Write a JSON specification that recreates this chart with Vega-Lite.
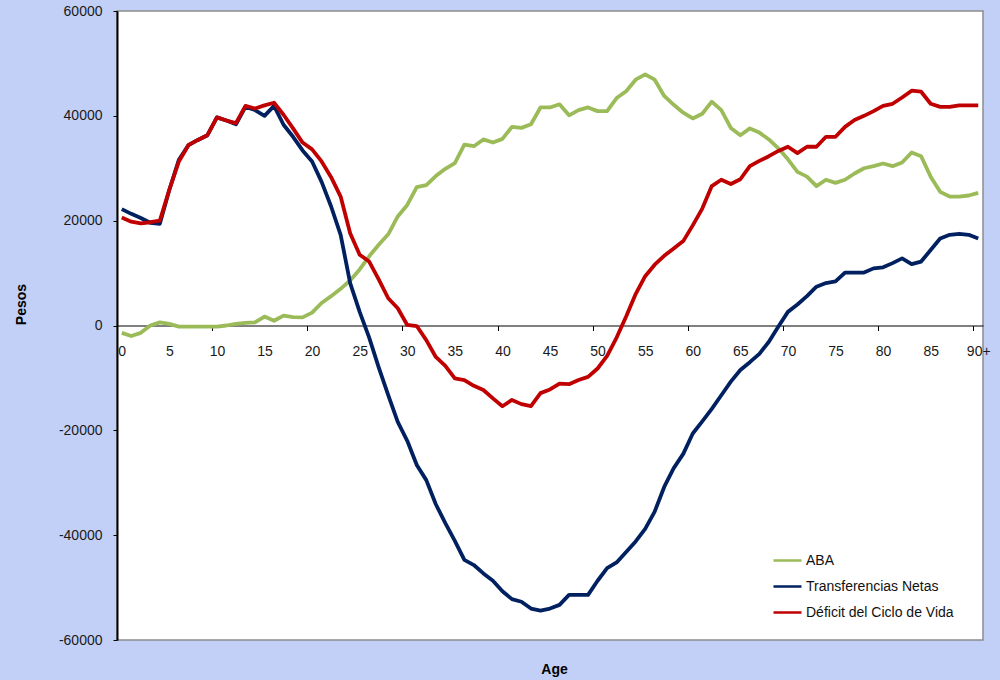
{
  "$schema": "https://vega.github.io/schema/vega-lite/v6.json",
  "width": 866,
  "height": 629,
  "autosize": "none",
  "padding": {"left": 117, "top": 11, "right": 17, "bottom": 40},
  "background": "#c2d0f7",
  "config": {
    "font": "Liberation Sans",
    "view": {"stroke": "#8c8c8c", "strokeWidth": 1.5, "fill": "white"}
  },
  "data": {
    "values": [
      {"age": 0, "ABA": -1400, "Transferencias Netas": 22200, "Déficit del Ciclo de Vida": 20600},
      {"age": 1, "ABA": -2000, "Transferencias Netas": 21300, "Déficit del Ciclo de Vida": 19800},
      {"age": 2, "ABA": -1400, "Transferencias Netas": 20500, "Déficit del Ciclo de Vida": 19500},
      {"age": 3, "ABA": 0, "Transferencias Netas": 19600, "Déficit del Ciclo de Vida": 19700},
      {"age": 4, "ABA": 600, "Transferencias Netas": 19400, "Déficit del Ciclo de Vida": 20000},
      {"age": 5, "ABA": 300, "Transferencias Netas": 25900, "Déficit del Ciclo de Vida": 25900},
      {"age": 6, "ABA": -200, "Transferencias Netas": 31600, "Déficit del Ciclo de Vida": 31300},
      {"age": 7, "ABA": -200, "Transferencias Netas": 34400, "Déficit del Ciclo de Vida": 34400},
      {"age": 8, "ABA": -200, "Transferencias Netas": 35400, "Déficit del Ciclo de Vida": 35400},
      {"age": 9, "ABA": -200, "Transferencias Netas": 36300, "Déficit del Ciclo de Vida": 36300},
      {"age": 10, "ABA": -200, "Transferencias Netas": 39700, "Déficit del Ciclo de Vida": 39700},
      {"age": 11, "ABA": 0, "Transferencias Netas": 39100, "Déficit del Ciclo de Vida": 39100},
      {"age": 12, "ABA": 300, "Transferencias Netas": 38400, "Déficit del Ciclo de Vida": 38600},
      {"age": 13, "ABA": 500, "Transferencias Netas": 41700, "Déficit del Ciclo de Vida": 41900},
      {"age": 14, "ABA": 600, "Transferencias Netas": 41100, "Déficit del Ciclo de Vida": 41400},
      {"age": 15, "ABA": 1700, "Transferencias Netas": 40000, "Déficit del Ciclo de Vida": 42000},
      {"age": 16, "ABA": 900, "Transferencias Netas": 41900, "Déficit del Ciclo de Vida": 42500},
      {"age": 17, "ABA": 1900, "Transferencias Netas": 38300, "Déficit del Ciclo de Vida": 40200},
      {"age": 18, "ABA": 1600, "Transferencias Netas": 36000, "Déficit del Ciclo de Vida": 37600},
      {"age": 19, "ABA": 1550, "Transferencias Netas": 33400, "Déficit del Ciclo de Vida": 34900},
      {"age": 20, "ABA": 2450, "Transferencias Netas": 31300, "Déficit del Ciclo de Vida": 33600},
      {"age": 21, "ABA": 4300, "Transferencias Netas": 27400, "Déficit del Ciclo de Vida": 31300},
      {"age": 22, "ABA": 5600, "Transferencias Netas": 22700, "Déficit del Ciclo de Vida": 28300},
      {"age": 23, "ABA": 7000, "Transferencias Netas": 17300, "Déficit del Ciclo de Vida": 24600},
      {"age": 24, "ABA": 8600, "Transferencias Netas": 8100, "Déficit del Ciclo de Vida": 17600},
      {"age": 25, "ABA": 10700, "Transferencias Netas": 2600, "Déficit del Ciclo de Vida": 13500},
      {"age": 26, "ABA": 13200, "Transferencias Netas": -2300, "Déficit del Ciclo de Vida": 12200},
      {"age": 27, "ABA": 15400, "Transferencias Netas": -8000, "Déficit del Ciclo de Vida": 8800},
      {"age": 28, "ABA": 17400, "Transferencias Netas": -13300, "Déficit del Ciclo de Vida": 5200},
      {"age": 29, "ABA": 20800, "Transferencias Netas": -18400, "Déficit del Ciclo de Vida": 3300},
      {"age": 30, "ABA": 23000, "Transferencias Netas": -22000, "Déficit del Ciclo de Vida": 100},
      {"age": 31, "ABA": 26400, "Transferencias Netas": -26600, "Déficit del Ciclo de Vida": -100},
      {"age": 32, "ABA": 26800, "Transferencias Netas": -29500, "Déficit del Ciclo de Vida": -2800},
      {"age": 33, "ABA": 28500, "Transferencias Netas": -34100, "Déficit del Ciclo de Vida": -6000},
      {"age": 34, "ABA": 29900, "Transferencias Netas": -37700, "Déficit del Ciclo de Vida": -7700},
      {"age": 35, "ABA": 31000, "Transferencias Netas": -41100, "Déficit del Ciclo de Vida": -10100},
      {"age": 36, "ABA": 34500, "Transferencias Netas": -44700, "Déficit del Ciclo de Vida": -10400},
      {"age": 37, "ABA": 34200, "Transferencias Netas": -45700, "Déficit del Ciclo de Vida": -11500},
      {"age": 38, "ABA": 35500, "Transferencias Netas": -47300, "Déficit del Ciclo de Vida": -12300},
      {"age": 39, "ABA": 34900, "Transferencias Netas": -48700, "Déficit del Ciclo de Vida": -13900},
      {"age": 40, "ABA": 35600, "Transferencias Netas": -50700, "Déficit del Ciclo de Vida": -15400},
      {"age": 41, "ABA": 37900, "Transferencias Netas": -52200, "Déficit del Ciclo de Vida": -14200},
      {"age": 42, "ABA": 37700, "Transferencias Netas": -52700, "Déficit del Ciclo de Vida": -15000},
      {"age": 43, "ABA": 38400, "Transferencias Netas": -54000, "Déficit del Ciclo de Vida": -15400},
      {"age": 44, "ABA": 41600, "Transferencias Netas": -54400, "Déficit del Ciclo de Vida": -12900},
      {"age": 45, "ABA": 41600, "Transferencias Netas": -54000, "Déficit del Ciclo de Vida": -12200},
      {"age": 46, "ABA": 42200, "Transferencias Netas": -53300, "Déficit del Ciclo de Vida": -11100},
      {"age": 47, "ABA": 40100, "Transferencias Netas": -51400, "Déficit del Ciclo de Vida": -11200},
      {"age": 48, "ABA": 41100, "Transferencias Netas": -51400, "Déficit del Ciclo de Vida": -10400},
      {"age": 49, "ABA": 41600, "Transferencias Netas": -51400, "Déficit del Ciclo de Vida": -9800},
      {"age": 50, "ABA": 40900, "Transferencias Netas": -48700, "Déficit del Ciclo de Vida": -8200},
      {"age": 51, "ABA": 40900, "Transferencias Netas": -46300, "Déficit del Ciclo de Vida": -5800},
      {"age": 52, "ABA": 43400, "Transferencias Netas": -45200, "Déficit del Ciclo de Vida": -2300},
      {"age": 53, "ABA": 44700, "Transferencias Netas": -43200, "Déficit del Ciclo de Vida": 1700},
      {"age": 54, "ABA": 46900, "Transferencias Netas": -41200, "Déficit del Ciclo de Vida": 6000},
      {"age": 55, "ABA": 47900, "Transferencias Netas": -38800, "Déficit del Ciclo de Vida": 9400},
      {"age": 56, "ABA": 46900, "Transferencias Netas": -35500, "Déficit del Ciclo de Vida": 11600},
      {"age": 57, "ABA": 43800, "Transferencias Netas": -30800, "Déficit del Ciclo de Vida": 13300},
      {"age": 58, "ABA": 42100, "Transferencias Netas": -27200, "Déficit del Ciclo de Vida": 14700},
      {"age": 59, "ABA": 40600, "Transferencias Netas": -24500, "Déficit del Ciclo de Vida": 16100},
      {"age": 60, "ABA": 39500, "Transferencias Netas": -20600, "Déficit del Ciclo de Vida": 19100},
      {"age": 61, "ABA": 40400, "Transferencias Netas": -18300, "Déficit del Ciclo de Vida": 22300},
      {"age": 62, "ABA": 42700, "Transferencias Netas": -15900, "Déficit del Ciclo de Vida": 26600},
      {"age": 63, "ABA": 41100, "Transferencias Netas": -13300, "Déficit del Ciclo de Vida": 27800},
      {"age": 64, "ABA": 37700, "Transferencias Netas": -10700, "Déficit del Ciclo de Vida": 27000},
      {"age": 65, "ABA": 36300, "Transferencias Netas": -8500, "Déficit del Ciclo de Vida": 27900},
      {"age": 66, "ABA": 37600, "Transferencias Netas": -7000, "Déficit del Ciclo de Vida": 30400},
      {"age": 67, "ABA": 36800, "Transferencias Netas": -5400, "Déficit del Ciclo de Vida": 31400},
      {"age": 68, "ABA": 35500, "Transferencias Netas": -3100, "Déficit del Ciclo de Vida": 32300},
      {"age": 69, "ABA": 33800, "Transferencias Netas": -200, "Déficit del Ciclo de Vida": 33300},
      {"age": 70, "ABA": 31700, "Transferencias Netas": 2600, "Déficit del Ciclo de Vida": 34100},
      {"age": 71, "ABA": 29300, "Transferencias Netas": 4000, "Déficit del Ciclo de Vida": 32900},
      {"age": 72, "ABA": 28400, "Transferencias Netas": 5600, "Déficit del Ciclo de Vida": 34100},
      {"age": 73, "ABA": 26600, "Transferencias Netas": 7400, "Déficit del Ciclo de Vida": 34100},
      {"age": 74, "ABA": 27800, "Transferencias Netas": 8100, "Déficit del Ciclo de Vida": 36000},
      {"age": 75, "ABA": 27200, "Transferencias Netas": 8400, "Déficit del Ciclo de Vida": 36000},
      {"age": 76, "ABA": 27800, "Transferencias Netas": 10100, "Déficit del Ciclo de Vida": 37900},
      {"age": 77, "ABA": 29000, "Transferencias Netas": 10100, "Déficit del Ciclo de Vida": 39200},
      {"age": 78, "ABA": 30000, "Transferencias Netas": 10100, "Déficit del Ciclo de Vida": 40000},
      {"age": 79, "ABA": 30400, "Transferencias Netas": 10900, "Déficit del Ciclo de Vida": 40900},
      {"age": 80, "ABA": 30900, "Transferencias Netas": 11100, "Déficit del Ciclo de Vida": 41900},
      {"age": 81, "ABA": 30400, "Transferencias Netas": 11900, "Déficit del Ciclo de Vida": 42300},
      {"age": 82, "ABA": 31100, "Transferencias Netas": 12800, "Déficit del Ciclo de Vida": 43500},
      {"age": 83, "ABA": 33000, "Transferencias Netas": 11700, "Déficit del Ciclo de Vida": 44800},
      {"age": 84, "ABA": 32300, "Transferencias Netas": 12200, "Déficit del Ciclo de Vida": 44600},
      {"age": 85, "ABA": 28400, "Transferencias Netas": 14400, "Déficit del Ciclo de Vida": 42300},
      {"age": 86, "ABA": 25500, "Transferencias Netas": 16600, "Déficit del Ciclo de Vida": 41700},
      {"age": 87, "ABA": 24600, "Transferencias Netas": 17300, "Déficit del Ciclo de Vida": 41700},
      {"age": 88, "ABA": 24600, "Transferencias Netas": 17500, "Déficit del Ciclo de Vida": 42000},
      {"age": 89, "ABA": 24800, "Transferencias Netas": 17300, "Déficit del Ciclo de Vida": 42000},
      {"age": 90, "ABA": 25300, "Transferencias Netas": 16600, "Déficit del Ciclo de Vida": 42000}
    ]
  },
  "transform": [
    {"fold": ["ABA", "Transferencias Netas", "Déficit del Ciclo de Vida"], "as": ["serie", "pesos"]}
  ],
  "mark": {"type": "line", "strokeWidth": 3.8, "strokeJoin": "round"},
  "encoding": {
    "x": {
      "field": "age",
      "type": "quantitative",
      "scale": {"domain": [-0.5, 90.5], "nice": false, "zero": false},
      "axis": {
        "values": [0, 5, 9.5, 10, 15, 19.5, 20, 25, 29.5, 30, 35, 39.5, 40, 45, 49.5, 50, 55, 59.5, 60, 65, 69.5, 70, 75, 79.5, 80, 85, 89.5, 90],
        "format": "d",
        "labelExpr": "datum.value % 1 != 0 ? '' : (datum.value == 90 ? '90+' : datum.label)",
        "offset": -314.5,
        "grid": false,
        "domainColor": "#000000",
        "domainWidth": 1,
        "tickSize": 5,
        "tickColor": "#000000",
        "tickOpacity": {"condition": {"test": "datum.value % 1 == 0", "value": 0}, "value": 1},
        "labelPadding": 14,
        "labelFontSize": 14,
        "labelColor": "#1a1a1a",
        "labelFlush": false,
        "labelOverlap": false,
        "title": "Age",
        "titleFontSize": 14,
        "titleFontWeight": "bold",
        "titleColor": "#000000",
        "titleX": 437,
        "titleY": 343.5,
        "titleAlign": "center",
        "titleBaseline": "middle"
      }
    },
    "y": {
      "field": "pesos",
      "type": "quantitative",
      "scale": {"domain": [-60000, 60000], "nice": false},
      "axis": {
        "values": [-60000, -40000, -20000, 0, 20000, 40000, 60000],
        "format": "d",
        "labelExpr": "datum.value < 0 ? '-' + format(-datum.value, 'd') : format(datum.value, 'd')",
        "grid": false,
        "domainColor": "#000000",
        "domainWidth": 2,
        "tickSize": 4,
        "tickColor": "#000000",
        "labelPadding": 11,
        "labelFontSize": 14,
        "labelColor": "#1a1a1a",
        "labelFlush": false,
        "title": "Pesos",
        "titleFontSize": 14,
        "titleFontWeight": "bold",
        "titleColor": "#000000",
        "titleX": -96,
        "titleY": 293,
        "titleAngle": 270,
        "titleAlign": "center",
        "titleBaseline": "middle"
      }
    },
    "color": {
      "field": "serie",
      "type": "nominal",
      "scale": {
        "domain": ["ABA", "Transferencias Netas", "Déficit del Ciclo de Vida"],
        "range": ["#9BBB59", "#002060", "#C00000"]
      },
      "legend": {
        "orient": "none",
        "legendX": 655,
        "legendY": 534,
        "title": null,
        "symbolType": "stroke",
        "symbolSize": 784,
        "symbolStrokeWidth": 2.5,
        "labelFontSize": 14,
        "labelColor": "#111111",
        "labelOffset": 3,
        "labelLimit": 300,
        "rowPadding": 3,
        "padding": 0
      }
    }
  }
}
